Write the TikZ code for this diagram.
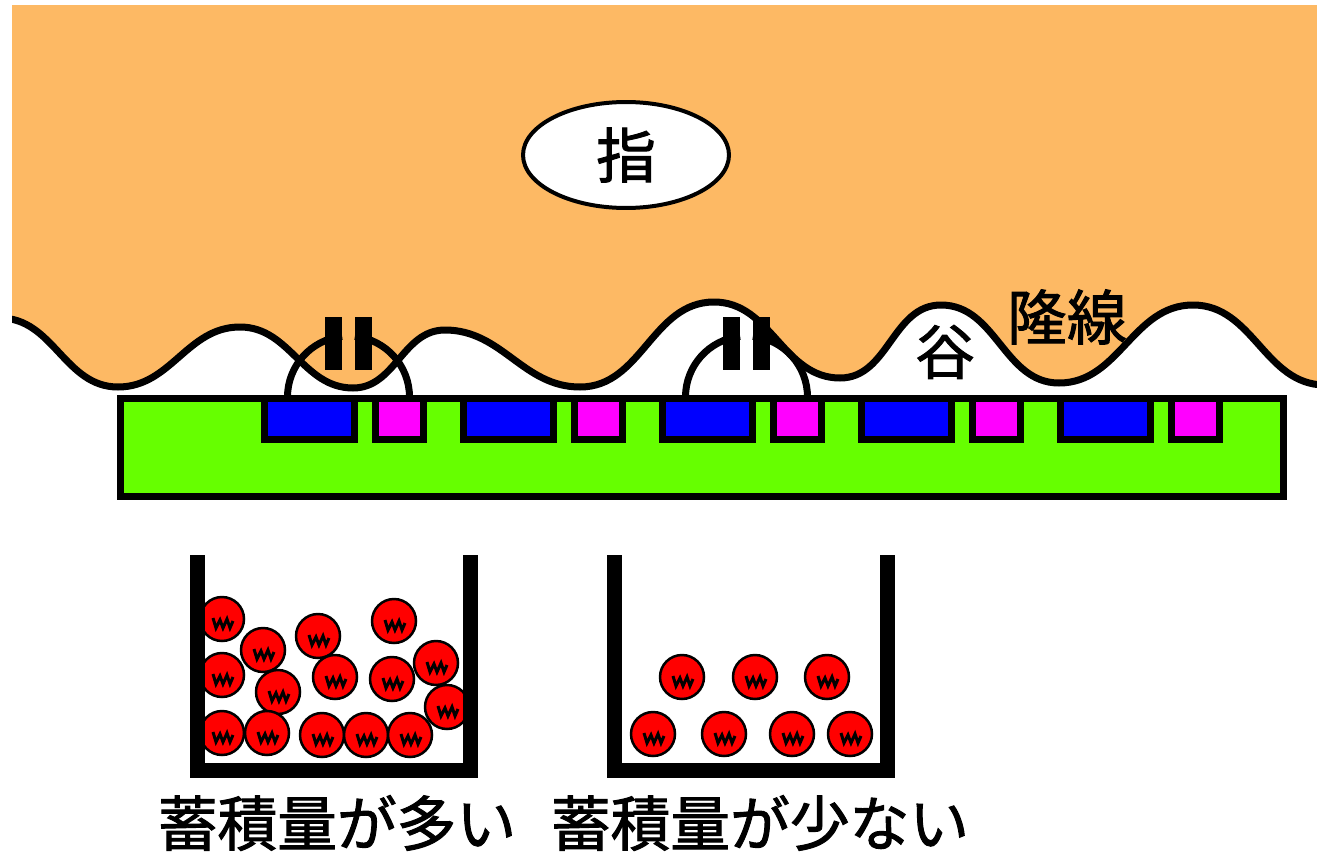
\documentclass[tikz,border=0pt]{standalone}
\usepackage{fontspec}
\usepackage{xcolor}
\usepackage{tikz}
\usetikzlibrary{shapes.geometric}
\newfontfamily\jpfont{Noto Sans CJK JP}[FakeBold=1.6,AutoFakeBold=1.6]
\definecolor{skin}{RGB}{253,185,100}
\definecolor{substrate}{RGB}{102,255,0}
\definecolor{sensorblue}{RGB}{0,0,255}
\definecolor{sensorpink}{RGB}{255,0,255}
\definecolor{chargered}{RGB}{255,0,0}
\tikzset{
    jptext/.style={
        font=\jpfont\fontsize{34}{40}\selectfont,
        inner sep=0pt
    },
    ridge/.style={
        draw=black,
        line width=0.14cm,
        line join=round
    },
    pocket/.style={
        draw=black,
        line width=0.14cm
    },
    wall/.style={
        draw=black,
        line width=0.3cm,
        line join=miter
    },
    charge/.pic={
        \draw[fill=chargered, line width=0.05cm] (0,0) circle (0.44cm);
        \draw[line width=0.06cm] (-9,-1) -- (-6,9) -- (-2,1) -- (1,9) -- (5,0) -- (8,9) -- (11,2);
    }
}

\begin{document}
\begin{tikzpicture}[x=0.02cm, y=-0.02cm]
\useasboundingbox (0,0) rectangle (1317,855);

% Finger surface with ridges and valleys
\begin{scope}
\clip (12,6) rectangle (1317,855);
\path[ridge, fill=skin] (0,-10) -- (0,318)
    to[out=0,in=180] (118,387) to[out=0,in=180] (240,327)
    to[out=0,in=180] (353,388) to[out=0,in=180] (445,330)
    to[out=0,in=180] (580,387) to[out=0,in=180] (714,302)
    to[out=0,in=180] (840,378) to[out=0,in=180] (941,305)
    to[out=0,in=180] (1059,383) to[out=0,in=180] (1193,305)
    to[out=0,in=180] (1325,385) -- (1330,-10) -- cycle;
\end{scope}

\node[ellipse, draw=black, line width=0.08cm, fill=white, minimum width=4.12cm, minimum height=2.12cm, jptext] (finger) at (626,155) {指};
\node[jptext] (valley) at (945,352) {谷};
\node[jptext] (ridgeline) at (1067,317) {隆線};

% Capacitors between finger and electrodes
\foreach \cx in {348.5,746.5} {
    \draw[ridge] (\cx-61,397) arc[start angle=180, end angle=96, radius=1.22cm];
    \draw[ridge] (\cx+61,397) arc[start angle=0, end angle=84, radius=1.22cm];
    \fill (\cx-23.5,317) rectangle (\cx-6.5,370);
    \fill (\cx+6.5,317) rectangle (\cx+23.5,370);
}

% Sensor substrate
\draw[fill=substrate, line width=0.14cm] (120.5,398.5) rectangle (1283.5,496.5);
\foreach \i in {0,...,4} {
    \draw[pocket, fill=sensorblue] ({264.5+199*\i},398.5) rectangle ({354.5+199*\i},439.5);
    \draw[pocket, fill=sensorpink] ({375.5+199*\i},398.5) rectangle ({423.5+199*\i},439.5);
}

% Stored charge
\foreach \x/\y in {222/619, 263/650, 318/636, 394/621, 222/675, 278/692, 335/677, 392/679,
    436/663, 447/707, 222/733, 267/733, 322/735, 366/735, 410/735}
    \pic at (\x,\y) {charge};
\foreach \x/\y in {682/677, 755/677, 827/677, 653/734, 724/734, 792/734, 850/734}
    \pic at (\x,\y) {charge};

\draw[wall] (197.5,555) -- (197.5,770.5) -- (470.5,770.5) -- (470.5,555);
\draw[wall] (614.5,555) -- (614.5,770.5) -- (887,770.5) -- (887,555);

\node[jptext] (many) at (337,823) {蓄積量が多い};
\node[jptext] (few) at (760,823) {蓄積量が少ない};
\end{tikzpicture}
\end{document}
